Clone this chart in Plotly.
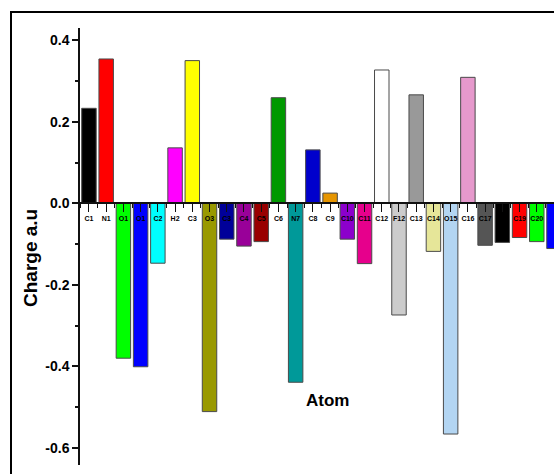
import plotly.graph_objects as go

# Atom labels along the zero line and their partial charges (a.u.)
atoms = ["C1", "N1", "O1", "O1", "C2", "H2", "C3", "O3", "C3", "C4", "C5", "C6",
         "N7", "C8", "C9", "C10", "C11", "C12", "F12", "C13", "C14", "O15", "C16",
         "C17", "C18", "C19", "C20", "C21"]
charges = [0.233, 0.354, -0.380, -0.401, -0.147, 0.136, 0.350, -0.511, -0.088,
           -0.105, -0.094, 0.259, -0.439, 0.131, 0.025, -0.088, -0.148, 0.327,
           -0.274, 0.266, -0.118, -0.566, 0.309, -0.103, -0.096, -0.084, -0.094,
           -0.111]
bar_colors = ["#000000", "#FF0000", "#00FF00", "#0000FF", "#00FFFF", "#FF00FF",
              "#FFFF00", "#999900", "#000099", "#990099", "#990000", "#009900",
              "#009999", "#0000CC", "#E69500", "#8C00CC", "#E6008C", "#FFFFFF",
              "#CCCCCC", "#999999", "#E6E699", "#B3D5F2", "#E699CC", "#555555",
              "#000000", "#FF0000", "#00FF00", "#0000FF"]

y_ticks = [-0.6, -0.4, -0.2, 0.0, 0.2, 0.4]
y_tick_text = ["-0.6", "-0.4", "-0.2", "0.0", "0.2", "0.4"]

y_min, y_max = -0.642, 0.430
x_min, x_max = -0.52, 27.0

W, H = 554, 474
ML, MR, MT, MB = 80, 0, 28, 9
plot_w = W - ML - MR
plot_h = H - MT - MB

FONT = "Liberation Sans, Arial, sans-serif"
x_pos = list(range(len(atoms)))

fig = go.Figure(
    go.Bar(
        x=x_pos,
        y=charges,
        width=0.84,
        marker=dict(color=bar_colors, line=dict(color="#4a4a4a", width=1)),
        showlegend=False,
    )
)

# paper position of the zero line, where the category axis sits
zero_pos = (0 - y_min) / (y_max - y_min)

fig.update_layout(
    width=W,
    height=H,
    margin=dict(l=ML, r=MR, t=MT, b=MB),
    paper_bgcolor="white",
    plot_bgcolor="white",
    xaxis=dict(
        range=[x_min, x_max],
        tickmode="array",
        tickvals=x_pos,
        ticktext=atoms,
        anchor="free",
        position=zero_pos,
        showline=True,
        linecolor="#111111",
        linewidth=2,
        ticks="outside",
        ticklen=8,
        tickwidth=1,
        tickcolor="#111111",
        tickfont=dict(family=FONT, size=7, color="black", weight="bold"),
        tickangle=0,
        showgrid=False,
        zeroline=False,
        minor=dict(tickmode="linear", tick0=0.5, dtick=1, ticks="outside",
                   ticklen=4, tickcolor="#111111", showgrid=False),
    ),
    yaxis=dict(
        range=[y_min, y_max],
        tickmode="array",
        tickvals=y_ticks,
        ticktext=y_tick_text,
        showline=True,
        linecolor="#111111",
        linewidth=1.5,
        ticks="outside",
        ticklen=6,
        tickwidth=1.5,
        tickcolor="#111111",
        tickfont=dict(family=FONT, size=14, color="black", weight="bold"),
        showgrid=False,
        zeroline=False,
        minor=dict(tickmode="linear", tick0=0.1, dtick=0.2, ticks="outside",
                   ticklen=3, tickcolor="#111111", showgrid=False),
    ),
    annotations=[
        dict(text="Charge a.u", xref="paper", yref="paper",
             x=(30 - ML) / plot_w, y=(H - MB - 258) / plot_h,
             textangle=-90, showarrow=False, xanchor="center", yanchor="middle",
             font=dict(family=FONT, size=19, color="black", weight="bold")),
        dict(text="Atom", xref="paper", yref="paper",
             x=(327 - ML) / plot_w, y=(H - MB - 400) / plot_h,
             showarrow=False, xanchor="center", yanchor="middle",
             font=dict(family=FONT, size=17, color="black", weight="bold")),
    ],
    shapes=[
        # outer frame around the figure
        dict(type="rect", xref="paper", yref="paper",
             x0=(11 - ML) / plot_w, x1=1.05,
             y0=-0.05, y1=1 + (MT - 12) / plot_h,
             line=dict(color="black", width=2), fillcolor="rgba(0,0,0,0)",
             layer="above"),
    ],
)

fig.write_html("out.html")
